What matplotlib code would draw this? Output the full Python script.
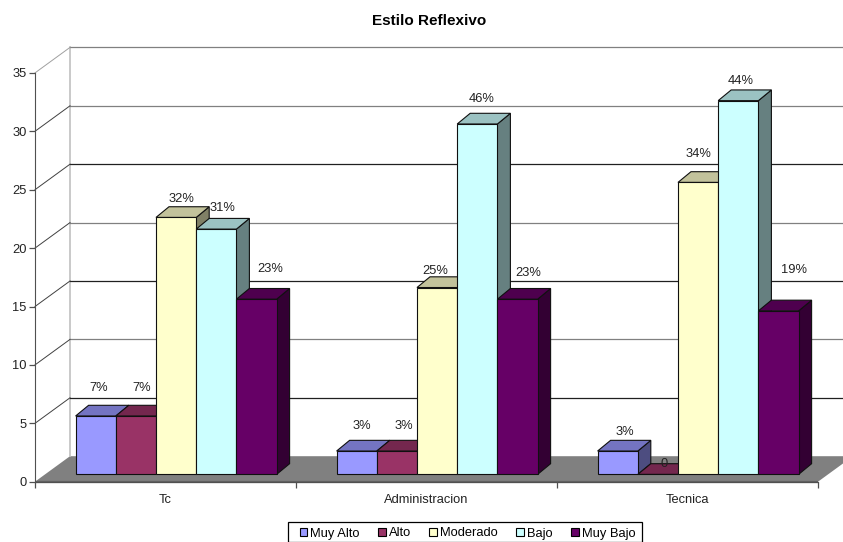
import matplotlib
matplotlib.use("Agg")
import matplotlib.pyplot as plt
from matplotlib.patches import Polygon, Patch, Rectangle
from matplotlib.colors import to_rgb

plt.rcParams['font.family'] = ['Liberation Sans', 'DejaVu Sans']

categories = ["Tc", "Administracion", "Tecnica"]
series_names = ["Muy Alto", "Alto", "Moderado", "Bajo", "Muy Bajo"]
muy_alto = [5, 2, 2]
alto = [5, 2, 0]
moderado = [22, 16, 25]
bajo = [21, 30, 32]
muy_bajo = [15, 15, 14]
lab_muy_alto = ["7%", "3%", "3%"]
lab_alto = ["7%", "3%", "0"]
lab_moderado = ["32%", "25%", "34%"]
lab_bajo = ["31%", "46%", "44%"]
lab_muy_bajo = ["23%", "23%", "19%"]
values = [muy_alto, alto, moderado, bajo, muy_bajo]
point_labels = [lab_muy_alto, lab_alto, lab_moderado, lab_bajo, lab_muy_bajo]
colors = ["#9999FF", "#993366", "#FFFFCC", "#CCFFFF", "#660066"]

W, H = 843, 542
X0, PXCAT = 35.0, 261.0     # px of the axis origin, px per category
Y0, PXUNIT = 481.7, 11.68   # px of value 0, px per value unit
FS = 9.3

fig = plt.figure(figsize=(W / 100, H / 100), dpi=100)
ax = fig.add_axes([0, 0, 1, 1])
ax.set_xlim(-X0 / PXCAT, (W - X0) / PXCAT)
ax.set_ylim((Y0 - H) / PXUNIT, Y0 / PXUNIT)
ax.patch.set_visible(False)

def dx(px):
    return px / PXCAT

def dy(px):
    return px / PXUNIT

# 3-D wall depth and bar depth
WX, WY = dx(35), dy(25.5)
BX, BY = dx(13), dy(10.7)
BASE = dy(7.3)               # bars stand a little above the front edge of the floor
BAR_W = dx(40.2)
GROUP_START = dx(40.6)

# floor
n = len(categories)
ax.add_patch(Polygon([(0, 0), (WX, WY), (n + WX, WY), (n, 0)], closed=True,
                     fc="#808080", ec="none", zorder=1))
ax.plot([0, n], [0, 0], color="#606060", lw=1.6, zorder=2, solid_capstyle="butt")

# walls and gridlines
yticks = [0, 5, 10, 15, 20, 25, 30, 35]
ax.plot([WX, WX], [WY, 35 + WY], color="#c0c0c0", lw=1.2, zorder=1)
for t in yticks[1:]:
    col = "#202020" if t in (5, 15, 25) else "#808080"
    ax.plot([WX, n + WX], [t + WY, t + WY], color=col, lw=0.9, zorder=1.5)
    ax.plot([0, WX], [t, t + WY], color="#a0a0a0" if t == 35 else "#404040", lw=0.7, zorder=1.5)

def shade(c, f):
    return tuple(v * f for v in to_rgb(c))

# bars, left to right (painter's order)
z = 3
for g in range(n):
    for s, vals in enumerate(values):
        v = vals[g]
        x0 = g + GROUP_START + s * BAR_W
        x1 = x0 + BAR_W
        y0, y1 = BASE, BASE + v
        c = colors[s]
        ec = "#101010"
        ax.add_patch(Polygon([(x1, y0), (x1 + BX, y0 + BY), (x1 + BX, y1 + BY), (x1, y1)],
                             closed=True, fc=shade(c, 0.5), ec=ec, lw=0.8, zorder=z))
        ax.add_patch(Polygon([(x0, y1), (x0 + BX, y1 + BY), (x1 + BX, y1 + BY), (x1, y1)],
                             closed=True, fc=shade(c, 0.76), ec=ec, lw=0.8, zorder=z))
        ax.add_patch(Polygon([(x0, y0), (x1, y0), (x1, y1), (x0, y1)],
                             closed=True, fc=c, ec=ec, lw=0.8, zorder=z + 0.1))
        z += 0.2

# hand-placed data labels: pixel offset from the centre of each bar's front top edge
label_off_x = [[3, 5, 7], [6, 7, 6], [5, -2, 0], [6, 4, 2], [14, 11, 16]]
label_off_y = [[28, 25, 19], [28, 25, 10], [18, 17, 28], [21, 25, 20], [30, 26, 41]]
for s, vals in enumerate(values):
    for g, v in enumerate(vals):
        cx = g + GROUP_START + (s + 0.5) * BAR_W + dx(label_off_x[s][g])
        cy = BASE + v + dy(label_off_y[s][g])
        ax.text(cx, cy, point_labels[s][g], ha="center", va="center",
                fontsize=FS, color="#222222", zorder=50)

# axes
for name in ("top", "right"):
    ax.spines[name].set_visible(False)
ax.spines["left"].set_position(("data", 0))
ax.spines["left"].set_bounds(0, 35)
ax.spines["left"].set_color("#505050")
ax.spines["bottom"].set_position(("data", 0))
ax.spines["bottom"].set_bounds(0, n)
ax.spines["bottom"].set_color("#505050")
ax.spines["bottom"].set_zorder(2)
ax.set_yticks(yticks)
ax.set_yticklabels([str(t) for t in yticks], fontsize=FS, color="#222222")
ax.tick_params(axis="y", length=4, width=0.9, color="#505050", pad=2)
ax.set_xticks(range(n + 1))
ax.set_xticklabels([""] * (n + 1))
ax.tick_params(axis="x", which="major", length=4.5, width=0.9, color="#505050")
ax.set_xticks([g + 0.5 for g in range(n)], minor=True)
ax.set_xticklabels(categories, minor=True, fontsize=FS, color="#222222")
ax.tick_params(axis="x", which="minor", length=0, pad=9)

ax.text(429 / W, 1 - 21 / H, "Estilo Reflexivo", transform=ax.transAxes, ha="center",
        va="center", fontsize=11, fontweight="bold", color="#000000")

# legend: frame drawn apart, since its padding is uneven
ax.add_patch(Rectangle((288 / W, 1 - 541.5 / H), 354 / W, 19.5 / H, transform=ax.transAxes,
                       fc="white", ec="#000000", lw=0.9, zorder=59))
handles = [Patch(fc=c, ec="#000000", lw=0.8) for c in colors]
leg = ax.legend(handles, series_names, ncol=5, loc="center",
                bbox_to_anchor=(467.5 / W, 1 - 533.5 / H), bbox_transform=ax.transAxes,
                fontsize=FS, frameon=False,
                handlelength=0.6, handleheight=0.6, handletextpad=0.25,
                columnspacing=1.4, borderpad=0, borderaxespad=0)
leg.set_zorder(60)

fig.savefig("out.png", dpi=100)
